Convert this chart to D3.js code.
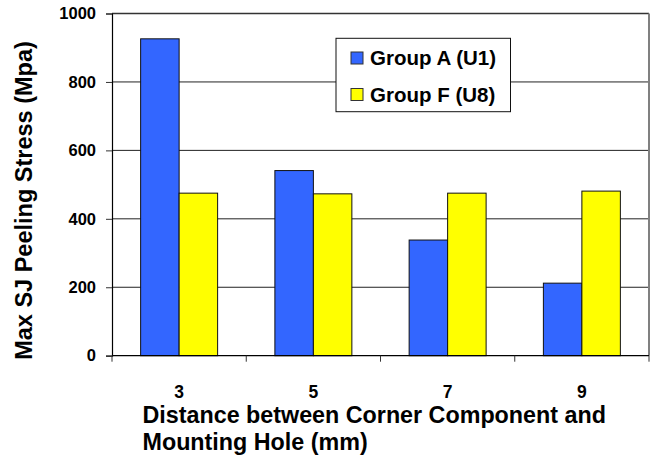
<!DOCTYPE html>
<html>
<head>
<meta charset="utf-8">
<script src="https://cdn.jsdelivr.net/npm/d3@7"></script>
<style>
  html, body { margin: 0; padding: 0; background: #fff; }
  svg { display: block; font-family: "Liberation Sans", Arial, sans-serif; font-weight: bold; }
</style>
</head>
<body>
<svg id="chart" width="650" height="456"></svg>
<script>
// Distances between the corner component and the mounting hole (mm)
const categories = ["3", "5", "7", "9"];
// Series: max solder-joint peeling stress (MPa)
const seriesNames = ["Group A (U1)", "Group F (U8)"];
const groupA = [926, 541, 338, 212];
const groupF = [475, 473, 475, 481];
const yTicks = [0, 200, 400, 600, 800, 1000];
const colors = ["#3366FF", "#FFFF00"];

const svg = d3.select("#chart");
const plot = { left: 112, right: 649, top: 13.5, bottom: 355.7 };

const x = d3.scaleBand().domain(categories).range([plot.left, plot.right]).padding(0);
const x1 = d3.scaleBand().domain(seriesNames).range([0, x.bandwidth()])
  .paddingInner(0).paddingOuter(0.744);
const y = d3.scaleLinear().domain([0, 1000]).range([plot.bottom, plot.top]);

// Horizontal gridlines
svg.append("g").selectAll("line").data(yTicks.filter(d => d > 0 && d < 1000)).join("line")
  .attr("x1", plot.left).attr("x2", plot.right)
  .attr("y1", d => y(d)).attr("y2", d => y(d))
  .attr("stroke", "#222").attr("stroke-width", 1);

// Frame: top and right edges
svg.append("line").attr("x1", plot.left).attr("x2", plot.right)
  .attr("y1", plot.top).attr("y2", plot.top).attr("stroke", "#333").attr("stroke-width", 1.5);
svg.append("line").attr("x1", plot.right).attr("x2", plot.right)
  .attr("y1", plot.top).attr("y2", plot.bottom).attr("stroke", "#808080").attr("stroke-width", 2);

// Bars
const rows = categories.map((c, i) => ({ cat: c, vals: [groupA[i], groupF[i]] }));
const groups = svg.append("g").selectAll("g").data(rows).join("g")
  .attr("transform", d => `translate(${x(d.cat)},0)`);
groups.selectAll("rect").data(d => d.vals.map((v, j) => ({ name: seriesNames[j], v, j }))).join("rect")
  .attr("x", d => x1(d.name))
  .attr("y", d => y(d.v))
  .attr("width", x1.bandwidth())
  .attr("height", d => y(0) - y(d.v))
  .attr("fill", d => colors[d.j])
  .attr("stroke", "#111").attr("stroke-width", 1);

// Y axis
const yAxis = svg.append("g").attr("transform", `translate(${plot.left},0)`)
  .call(d3.axisLeft(y).tickValues(yTicks).tickSize(6).tickPadding(10).tickFormat(d3.format("d")));
yAxis.select(".domain").attr("stroke", "#000").attr("stroke-width", 1.2);
yAxis.selectAll(".tick line").attr("stroke", "#333");
yAxis.selectAll("text").attr("font-size", 16.5).attr("font-weight", "bold")
  .attr("font-family", "Liberation Sans, Arial, sans-serif").attr("fill", "#000");

// X axis with ticks on category boundaries
const xAxis = svg.append("g").attr("transform", `translate(0,${plot.bottom})`);
xAxis.append("line").attr("x1", plot.left).attr("x2", plot.right)
  .attr("stroke", "#000").attr("stroke-width", 1.2);
const bounds = categories.map(c => x(c)).concat([plot.right]);
xAxis.selectAll("line.tk").data(bounds).join("line").attr("class", "tk")
  .attr("x1", d => d).attr("x2", d => d).attr("y1", 0).attr("y2", 6)
  .attr("stroke", "#333");
xAxis.selectAll("text").data(categories).join("text")
  .attr("x", d => x(d) + x.bandwidth() / 2).attr("y", 42.5)
  .attr("text-anchor", "middle").attr("font-size", 17.5).text(d => d);

// Axis titles
svg.append("text")
  .attr("transform", "translate(32,200.5) rotate(-90)")
  .attr("text-anchor", "middle").attr("font-size", 23.5)
  .text("Max SJ Peeling Stress (Mpa)");
const xt = svg.append("text").attr("font-size", 23.3);
xt.append("tspan").attr("x", 142.5).attr("y", 422.5).text("Distance between Corner Component and");
xt.append("tspan").attr("x", 142.5).attr("y", 450).text("Mounting Hole (mm)");

// Legend
const lg = svg.append("g");
lg.append("rect").attr("x", 336).attr("y", 38.3).attr("width", 174.5).attr("height", 73.4)
  .attr("fill", "#fff").attr("stroke", "#111").attr("stroke-width", 1);
seriesNames.forEach((n, i) => {
  const yy = 52 + i * 36.5;
  lg.append("rect").attr("x", 351).attr("y", yy).attr("width", 12).attr("height", 12)
    .attr("fill", colors[i]).attr("stroke", "#333");
  lg.append("text").attr("x", 370).attr("y", yy + 13).attr("font-size", 20.5).text(n);
});
</script>
</body>
</html>
